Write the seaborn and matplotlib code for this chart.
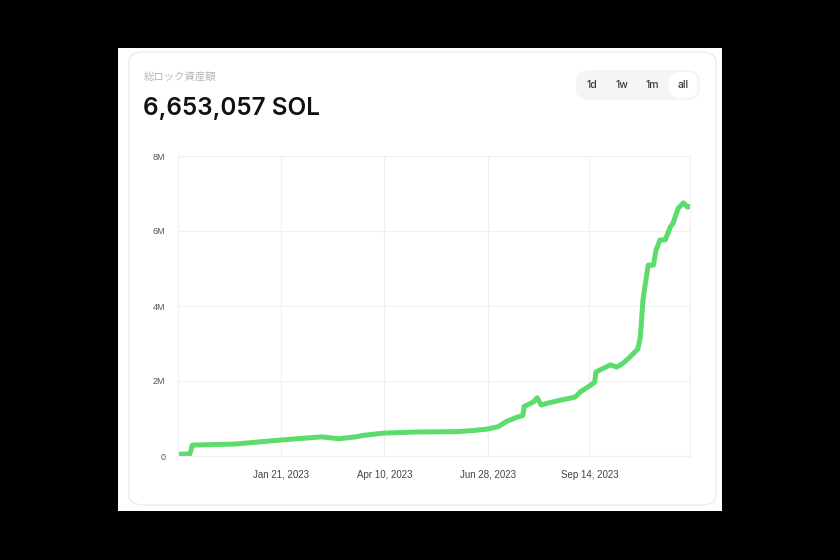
import matplotlib
matplotlib.use("Agg")
import matplotlib.pyplot as plt
from matplotlib.patches import Rectangle, FancyBboxPatch
import numpy as np
import pandas as pd
import seaborn as sns

# DATA
dates = ["2022-11-03", "2022-11-12", "2022-11-14", "2022-12-17", "2023-01-22",
         "2023-02-21", "2023-03-06", "2023-03-19", "2023-03-25", "2023-04-09",
         "2023-05-05", "2023-06-05", "2023-06-17", "2023-06-28", "2023-07-06",
         "2023-07-13", "2023-07-21", "2023-07-25", "2023-07-26", "2023-08-02",
         "2023-08-05", "2023-08-08", "2023-08-13", "2023-08-23", "2023-09-03",
         "2023-09-07", "2023-09-15", "2023-09-18", "2023-09-19", "2023-09-30",
         "2023-10-05", "2023-10-10", "2023-10-15", "2023-10-21", "2023-10-23",
         "2023-10-25", "2023-10-27", "2023-10-29", "2023-11-02", "2023-11-04",
         "2023-11-07", "2023-11-11", "2023-11-15", "2023-11-17", "2023-11-21",
         "2023-11-25", "2023-11-28", "2023-11-30"]
tvl_millions = [0.05, 0.05, 0.29, 0.32, 0.43,
                0.51, 0.46, 0.51, 0.55, 0.61,
                0.64, 0.65, 0.68, 0.72, 0.78,
                0.93, 1.04, 1.08, 1.32, 1.44,
                1.55, 1.36, 1.41, 1.49, 1.57,
                1.71, 1.89, 1.97, 2.24, 2.43,
                2.37, 2.48, 2.64, 2.85, 3.17,
                4.16, 4.64, 5.09, 5.09, 5.49,
                5.76, 5.76, 6.11, 6.21, 6.61,
                6.75, 6.64, 6.653]
ytick_vals = [0, 2, 4, 6, 8]
ytick_labels = ["0", "2M", "4M", "6M", "8M"]
xtick_dates = ["2023-01-21", "2023-04-10", "2023-06-28", "2023-09-14"]
xtick_labels = ["Jan 21, 2023", "Apr 10, 2023", "Jun 28, 2023", "Sep 14, 2023"]
ranges = ["1d", "1w", "1m", "all"]

df = pd.DataFrame({"date": pd.to_datetime(dates), "tvl": tvl_millions})

sns.set_theme(style="white")
plt.rcParams['font.family'] = ['Liberation Sans', 'Noto Sans CJK JP', 'DejaVu Sans']

W, H = 840, 560
fig = plt.figure(figsize=(8.4, 5.6), dpi=100)
fig.patch.set_facecolor("black")

# card backgrounds
fig.patches.append(Rectangle((118 / W, 1 - 511 / H), (722 - 118) / W, (511 - 48) / H,
                             transform=fig.transFigure, facecolor="white",
                             edgecolor="none", zorder=-2))
fig.patches.append(FancyBboxPatch((129 / W, 1 - 505 / H), (716 - 129) / W, (505 - 52) / H,
                                  boxstyle="round,pad=0,rounding_size=0.018",
                                  transform=fig.transFigure, facecolor="white",
                                  edgecolor="#ececec", linewidth=1.0, zorder=-1))

# header texts
fig.text(144 / W, 1 - 77 / H, "総ロック資産額", fontsize=7.5, color="#b5b5b5",
         va="center", ha="left", family=['Noto Sans CJK JP', 'DejaVu Sans'])
fig.text(143 / W, 1 - 109 / H, "6,653,057 SOL", fontsize=17.5, color="#111111",
         va="center", ha="left", family=['Inter', 'DejaVu Sans'], weight="semibold")

# range selector pill
fig.patches.append(FancyBboxPatch((576 / W, 1 - 100 / H), (700 - 576) / W, 30 / H,
                                  boxstyle="round,pad=0,rounding_size=0.018",
                                  transform=fig.transFigure, facecolor="#f5f5f5",
                                  edgecolor="none", zorder=0))
fig.patches.append(FancyBboxPatch((669 / W, 1 - 98 / H), 28 / W, 26 / H,
                                  boxstyle="round,pad=0,rounding_size=0.015",
                                  transform=fig.transFigure, facecolor="white",
                                  edgecolor="none", zorder=0))
for lbl, xpx in zip(ranges, [592, 622, 652, 683]):
    fig.text(xpx / W, 1 - 85 / H, lbl, fontsize=7.5, color="#3a3a3a",
             ha="center", va="center", family=['Inter', 'DejaVu Sans'], weight="medium")

# chart
ax = fig.add_axes([178 / W, 1 - 456 / H, (690 - 178) / W, (456 - 156) / H])
ax.set_facecolor("white")
sns.lineplot(data=df, x="date", y="tvl", ax=ax, color="#5bdc6c", linewidth=3.6,
             solid_capstyle="round", solid_joinstyle="round")

ax.set_xlim(pd.Timestamp("2022-11-03"), pd.Timestamp("2023-11-30"))
ax.set_ylim(0, 8)
ax.set_yticks(ytick_vals)
ax.set_yticklabels(ytick_labels)
ax.set_xticks(pd.to_datetime(xtick_dates))
ax.set_xticklabels(xtick_labels)
ax.tick_params(axis="y", labelsize=6.5, colors="#555555", length=0, pad=9)
ax.tick_params(axis="x", labelsize=7, colors="#444444", length=0, pad=10)
ax.set_xlabel("")
ax.set_ylabel("")
ax.grid(True, color="#f0f0f0", linewidth=0.8)
ax.set_axisbelow(True)
for s in ax.spines.values():
    s.set_color("#f0f0f0")
    s.set_linewidth(0.8)

fig.savefig("out.png", dpi=100, facecolor=fig.get_facecolor())
